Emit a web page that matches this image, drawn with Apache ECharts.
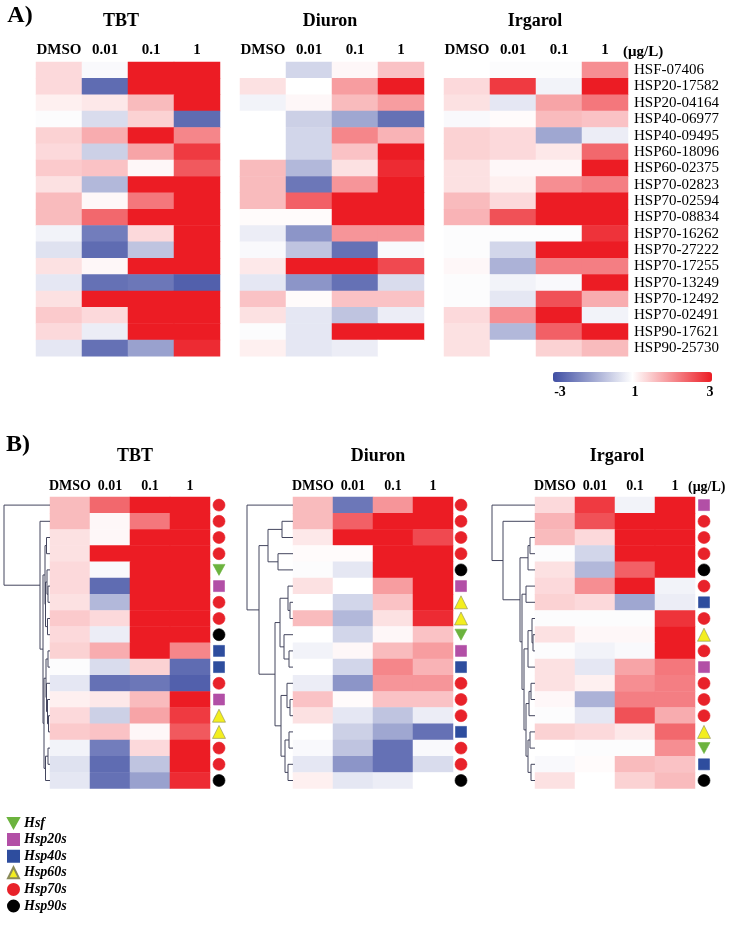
<!DOCTYPE html>
<html><head><meta charset="utf-8">
<script src="https://cdn.jsdelivr.net/npm/echarts@6/dist/echarts.min.js"></script>
<style>html,body{margin:0;padding:0;background:#fff}#c{width:729px;height:932px}</style>
</head><body><div id="c"></div>
<script>
const concentrations = ['DMSO', '0.01', '0.1', '1'];
const genes = ['HSF-07406','HSP20-17582','HSP20-04164','HSP40-06977','HSP40-09495','HSP60-18096','HSP60-02375',
  'HSP70-02823','HSP70-02594','HSP70-08834','HSP70-16262','HSP70-27222','HSP70-17255','HSP70-13249','HSP70-12492',
  'HSP70-02491','HSP90-17621','HSP90-25730'];
const families = ['Hsf','Hsp20s','Hsp20s','Hsp40s','Hsp40s','Hsp60s','Hsp60s',
  'Hsp70s','Hsp70s','Hsp70s','Hsp70s','Hsp70s','Hsp70s','Hsp70s','Hsp70s','Hsp70s','Hsp90s','Hsp90s'];
const familyNames = ['Hsf','Hsp20s','Hsp40s','Hsp60s','Hsp70s','Hsp90s'];

// values per gene (rows) x concentration (DMSO, 0.01, 0.1, 1), scale -3..3
const tbt = [
  [0.5,-0.1,3,3],[0.5,-2.5,3,3],[0.2,0.3,0.9,3],[-0.05,-0.6,0.6,-2.5],[0.6,1.1,3,1.6],[0.5,-0.8,1.2,2.6],
  [0.7,0.8,0.1,2.2],[0.4,-1.2,3,3],[0.9,0.1,1.8,3],[0.9,2.0,3,3],[-0.2,-2.2,0.5,3],[-0.5,-2.5,-1.0,3],
  [0.4,0.1,3,3],[-0.4,-2.4,-2.3,-2.7],[0.4,3,3,3],[0.7,0.5,3,3],[0.5,-0.3,3,3],[-0.4,-2.4,-1.6,2.8]];
const diuron = [
  [0,-0.7,0.1,0.8],[0.4,0,1.3,3],[-0.2,0.1,0.9,1.3],[0,-0.8,-1.5,-2.4],[0,-0.7,1.6,1.0],[0,-0.7,0.8,3],
  [0.9,-1.2,0.4,2.8],[0.9,-2.3,1.4,3],[0.9,2.1,3,3],[0.05,0.05,3,3],[-0.3,-1.8,1.4,1.4],[-0.1,-1.0,-2.4,-0.1],
  [0.3,3,3,2.4],[-0.4,-1.8,-2.4,-0.6],[0.8,0.05,0.8,0.8],[0.4,-0.4,-1.0,-0.3],[-0.05,-0.4,3,3],[0.2,-0.4,-0.3,0.0]];
const irgarol = [
  [0,-0.05,-0.05,1.5],[0.5,2.6,-0.2,3],[0.4,-0.4,1.2,1.8],[-0.1,0.05,0.9,0.8],[0.6,0.5,-1.5,-0.3],[0.6,0.5,0.3,2.0],
  [0.4,0.1,0.1,3],[0.4,0.2,1.5,1.7],[0.9,0.5,3,3],[1.0,2.3,3,3],[-0.05,-0.05,-0.05,2.7],[-0.05,-0.7,3,3],
  [0.1,-1.3,1.7,1.7],[-0.05,-0.2,-0.1,3],[-0.05,-0.4,2.3,1.1],[0.5,1.5,3,-0.2],[0.4,-1.2,2.1,3],[0.4,0,0.6,0.9]];

// clustered row order in panel B (gene indices, top to bottom)
const tbtOrder = [9,8,12,14,0,1,7,15,16,4,3,13,2,5,6,10,11,17];
const diuronOrder = [7,8,12,9,16,1,5,6,0,2,4,10,14,15,3,11,13,17];
const irgarolOrder = [1,9,8,11,16,15,4,10,6,13,2,7,12,14,5,0,3,17];

// dendrograms: [height, left, right], leaves = row position in panel B
const tbtTree = [46, 0, [10, 1, [7, [5, [3.5, 2, 3], [4.5, [3, 4, [2, 5, 6]], [2.5, 7, 8]]],
  [6, [4, [2, 9, 10], [3.5, 11, [2.5, 12, [1.5, 13, 14]]]], [4.5, [2, 15, 16], 17]]]]];
const diuronTree = [46, 0, [34, [25, [11, 1, 2], [15, 3, 4]], [18, [13, [5, 5, [3, 6, 7]], [9, 8, [4, 9, 10]]],
  [12, [6, 11, [3, 12, 13]], [8, [4, 14, 15], [5, 16, 17]]]]]];
const irgarolTree = [43, 0, [32, 1, [15, [7, [5, 2, 3], 4], [13, [9, 5, 6], [11, [7, [3, 7, [2, 8, 9]], 10],
  [9, [6, [4, 11, 12], 13], [7, [5, 14, 15], [4, 16, 17]]]]]]]];

const compounds = ['TBT', 'Diuron', 'Irgarol'];
const colorbarTicks = ['-3', '1', '3'];

const SERIF = "'Liberation Serif', 'Times New Roman', serif";
const DOWN_TRI = 'path://M0,0 L10,0 L5,9 Z';
const symbolStyle = {
  'Hsf': {symbol: DOWN_TRI, color: '#6cb33e', size: [12, 11]},
  'Hsp20s': {symbol: 'rect', color: '#b24fa6', size: 11},
  'Hsp40s': {symbol: 'rect', color: '#2e4d9e', size: 11},
  'Hsp60s': {symbol: 'triangle', color: '#f3ee1f', size: 13},
  'Hsp70s': {symbol: 'circle', color: '#e8222a', size: 12},
  'Hsp90s': {symbol: 'circle', color: '#000000', size: 12}
};

const datasets = [tbt, diuron, irgarol];
const orders = [tbtOrder, diuronOrder, irgarolOrder];
const trees = [tbtTree, diuronTree, irgarolTree];

const A = {top: 62, rowH: 16.35, lefts: [36, 240, 444], width: 184};
const B = {top: 497, rowH: 16.2, lefts: [50, 293, 535], width: 160, symX: [219, 461, 704]};

const grid = [], xAxis = [], yAxis = [], series = [];
const heatIdx = [];
function hmData(vals, order) {
  const out = [];
  order.forEach((g, r) => vals[g].forEach((v, c) => out.push([c, r, v])));
  return out;
}
// Panel A heatmaps
for (let k = 0; k < 3; k++) {
  const gi = grid.length;
  grid.push({left: A.lefts[k], top: A.top, width: A.width, height: A.rowH * 18});
  xAxis.push({gridIndex: gi, type: 'category', position: 'top', data: concentrations,
    axisLine: {show: false}, axisTick: {show: false},
    axisLabel: {interval: 0, margin: 4, fontFamily: SERIF, fontWeight: 'bold', fontSize: 15, color: '#000'}});
  yAxis.push({gridIndex: gi, type: 'category', inverse: true, data: genes, position: 'right',
    axisLine: {show: false}, axisTick: {show: false},
    axisLabel: {show: k === 2, interval: 0, margin: 6, fontFamily: SERIF, fontSize: 15, color: '#000'}});
  heatIdx.push(series.length);
  series.push({type: 'heatmap', xAxisIndex: gi, yAxisIndex: gi, silent: true,
    data: hmData(datasets[k], genes.map((_, i) => i)), emphasis: {disabled: true}});
}
// Panel B heatmaps
for (let k = 0; k < 3; k++) {
  const gi = grid.length;
  grid.push({left: B.lefts[k], top: B.top, width: B.width, height: B.rowH * 18});
  xAxis.push({gridIndex: gi, type: 'category', position: 'top', data: concentrations,
    axisLine: {show: false}, axisTick: {show: false},
    axisLabel: {interval: 0, margin: 4, fontFamily: SERIF, fontWeight: 'bold', fontSize: 14, color: '#000'}});
  yAxis.push({gridIndex: gi, type: 'category', inverse: true, data: orders[k].map(g => genes[g]),
    axisLine: {show: false}, axisTick: {show: false}, axisLabel: {show: false}});
  heatIdx.push(series.length);
  series.push({type: 'heatmap', xAxisIndex: gi, yAxisIndex: gi, silent: true,
    data: hmData(datasets[k], orders[k]), emphasis: {disabled: true}});
}
// Panel B family symbols
for (let k = 0; k < 3; k++) {
  const gi = grid.length;
  grid.push({left: B.symX[k] - 10, top: B.top, width: 20, height: B.rowH * 18});
  xAxis.push({gridIndex: gi, type: 'value', min: -1, max: 1, show: false});
  yAxis.push({gridIndex: gi, type: 'value', min: -0.5, max: 17.5, inverse: true, show: false});
  familyNames.forEach(f => {
    const st = symbolStyle[f];
    const data = [];
    orders[k].forEach((g, r) => { if (families[g] === f) data.push([0, r]); });
    series.push({type: 'scatter', name: f, xAxisIndex: gi, yAxisIndex: gi, silent: true,
      symbol: st.symbol, symbolSize: st.size, data,
      itemStyle: {color: st.color, borderColor: f === 'Hsp60s' ? '#8a8a5a' : st.color, borderWidth: 0.6, opacity: 1}});
  });
}
// Dendrograms
function buildDendro(node, segs) {
  if (!Array.isArray(node)) return {y: node, h: 0};
  const l = buildDendro(node[1], segs), r = buildDendro(node[2], segs);
  segs.push({coords: [[l.h, l.y], [node[0], l.y], [node[0], r.y], [r.h, r.y]]});
  return {y: (l.y + r.y) / 2, h: node[0]};
}
for (let k = 0; k < 3; k++) {
  const gi = grid.length;
  grid.push({left: B.lefts[k] - 46, top: B.top, width: 46, height: B.rowH * 18});
  xAxis.push({gridIndex: gi, type: 'value', min: 0, max: 46, inverse: true, show: false});
  yAxis.push({gridIndex: gi, type: 'value', min: -0.5, max: 17.5, inverse: true, show: false});
  const segs = [];
  buildDendro(trees[k], segs);
  series.push({type: 'lines', coordinateSystem: 'cartesian2d', polyline: true, xAxisIndex: gi, yAxisIndex: gi,
    silent: true, data: segs, lineStyle: {color: '#44465e', width: 1, opacity: 1}});
}

const graphic = [];
function txt(x, y, s, size, extra) {
  graphic.push({type: 'text', x, y, style: Object.assign({text: s, fontFamily: SERIF, fontSize: size,
    fontWeight: 'bold', fill: '#000', align: 'center', verticalAlign: 'middle'}, extra || {})});
}
txt(20, 16, 'A)', 24);
txt(18, 445, 'B)', 24);
[121, 330, 535].forEach((x, i) => txt(x, 21, compounds[i], 18));
[135, 378, 617].forEach((x, i) => txt(x, 456, compounds[i], 18));
txt(623, 52, '(μg/L)', 15, {align: 'left'});
txt(688, 487, '(μg/L)', 14, {align: 'left'});
[560, 635, 710].forEach((x, i) => txt(x, 392, colorbarTicks[i], 14));

const option = {
  animation: false,
  backgroundColor: '#fff',
  grid, xAxis, yAxis, series, graphic,
  visualMap: {
    type: 'continuous', min: -3, max: 3, seriesIndex: heatIdx, dimension: 2,
    orient: 'horizontal', left: 553, top: 372, itemWidth: 10, itemHeight: 159, padding: 0,
    calculable: false, text: ['', ''], showLabel: false, hoverLink: false,
    inRange: {color: ['#3f4ea3', '#ffffff', '#ec1c24']}
  },
  legend: {
    orient: 'vertical', left: 2, top: 811, itemWidth: 11, itemHeight: 11, itemGap: 2.6,
    data: familyNames.map(f => ({name: f, icon: symbolStyle[f].symbol})), selectedMode: false,
    textStyle: {fontFamily: SERIF, fontSize: 14, fontWeight: 'bold', fontStyle: 'italic', color: '#000', lineHeight: 12}
  }
};
const chart = echarts.init(document.getElementById('c'), null, {renderer: 'canvas'});
chart.setOption(option);
</script></body></html>
